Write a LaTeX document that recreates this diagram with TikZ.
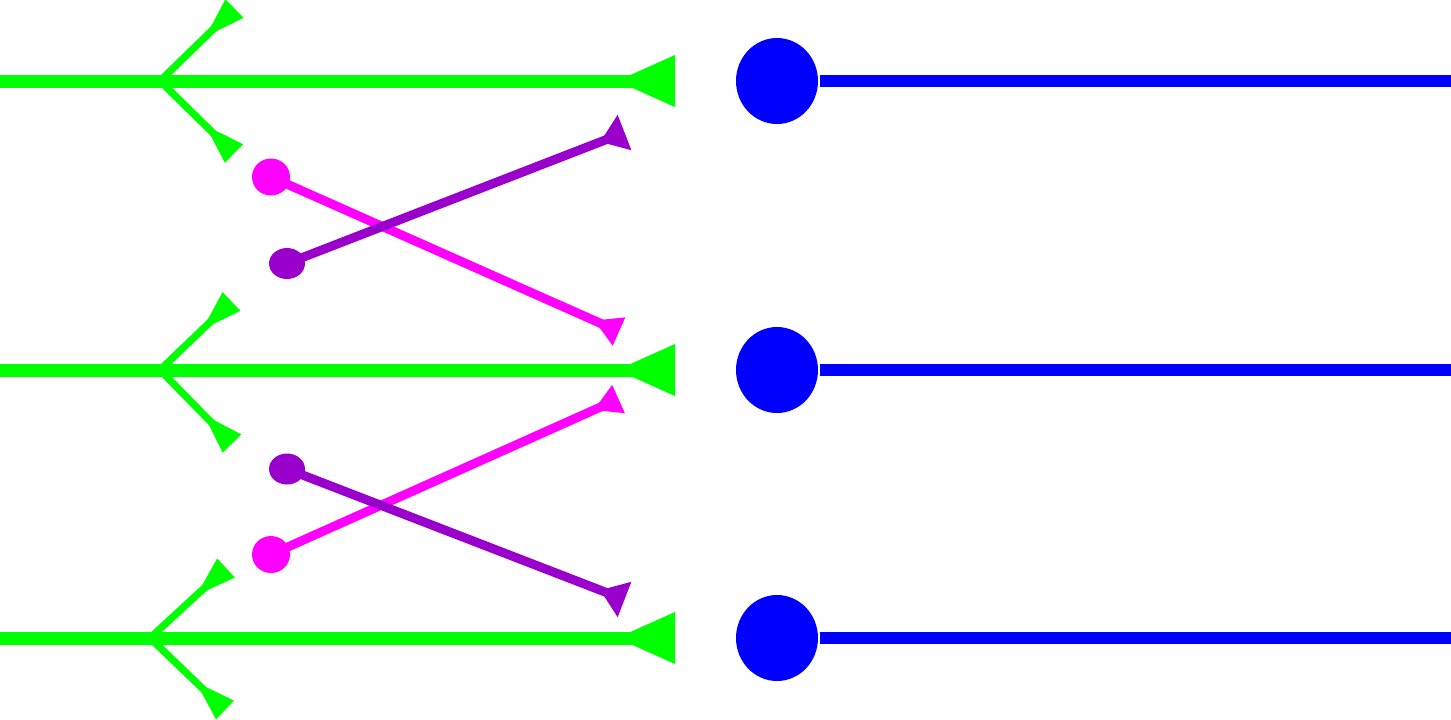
\documentclass[tikz,border=0pt]{standalone}
\usetikzlibrary{calc}
\definecolor{grn}{RGB}{0,255,0}
\definecolor{blu}{RGB}{0,0,255}
\definecolor{mag}{RGB}{255,0,255}
\definecolor{pur}{RGB}{153,0,204}
% #1 colour, #2 start, #3 end (flat side of tip), #4 tip length, #5 half tip width, #6 line width
\newcommand\tipline[6]{%
  \fill[#1] ($(#3)!#5!90:(#2)$) -- ($(#3)!#4!(#2)$) -- ($(#3)!#5!-90:(#2)$) -- cycle;
  \draw[#1,line width=#6] (#2) -- ($(#3)!1pt!(#2)$);
}
\tikzset{
  bigdot/.style={fill=blu},
  blueline/.style={draw=blu,line width=6pt},
}
\begin{document}
\begin{tikzpicture}[x=0.5pt,y=-0.5pt]
\useasboundingbox (0,0) rectangle (1451,719);
% green trunks
\coordinate (g1s) at (0,81);   \coordinate (g1e) at (675,81);
\coordinate (g2s) at (0,370);  \coordinate (g2e) at (675,370);
\coordinate (g3s) at (0,638);  \coordinate (g3e) at (675,638);
% branch points and branch ends
\coordinate (b1) at (160,81);  \coordinate (b1u) at (234.5,8.5); \coordinate (b1d) at (234,153.5);
\coordinate (b2) at (160,370); \coordinate (b2u) at (231.5,301.5); \coordinate (b2d) at (232,443.5);
\coordinate (b3) at (150,638); \coordinate (b3u) at (226,568); \coordinate (b3d) at (225,710);
% blue
\coordinate (c1) at (777,81);  \coordinate (l1s) at (820,81);  \coordinate (l1e) at (1451,81);
\coordinate (c2) at (777,370); \coordinate (l2s) at (820,370); \coordinate (l2e) at (1451,370);
\coordinate (c3) at (777,638); \coordinate (l3s) at (820,638); \coordinate (l3e) at (1451,638);
% magenta and purple
\coordinate (m1s) at (271,177);   \coordinate (m1e) at (619,331.5);
\coordinate (m2s) at (271,554.5); \coordinate (m2e) at (618.5,399);
\coordinate (p1s) at (287,263.5); \coordinate (p1e) at (624.5,132.5);
\coordinate (p2s) at (287,469);   \coordinate (p2e) at (624.5,599.5);

% green
\foreach \i in {1,2,3}{
  \tipline{grn}{g\i s}{g\i e}{29pt}{13pt}{6.5pt}
  \tipline{grn}{b\i}{b\i u}{20pt}{6.5pt}{3.6pt}
  \tipline{grn}{b\i}{b\i d}{20pt}{6.5pt}{3.6pt}
}
% blue
\foreach \i in {1,2,3}{
  \fill[bigdot] (c\i) ellipse [x radius=20.5pt, y radius=21.5pt];
  \draw[blueline] (l\i s) -- (l\i e);
}
% magenta
\tipline{mag}{m1s}{m1e}{13.5pt}{7.75pt}{4.5pt}
\tipline{mag}{m2s}{m2e}{13.5pt}{7.75pt}{4.5pt}
\fill[mag] (m1s) ellipse [x radius=9.5pt, y radius=9.25pt];
\fill[mag] (m2s) ellipse [x radius=9.5pt, y radius=9.25pt];
% purple
\tipline{pur}{p1s}{p1e}{13pt}{9.5pt}{4.5pt}
\tipline{pur}{p2s}{p2e}{13pt}{9.5pt}{4.5pt}
\fill[pur] (p1s) ellipse [x radius=9pt, y radius=7.75pt];
\fill[pur] (p2s) ellipse [x radius=9pt, y radius=7.75pt];
\end{tikzpicture}
\end{document}
